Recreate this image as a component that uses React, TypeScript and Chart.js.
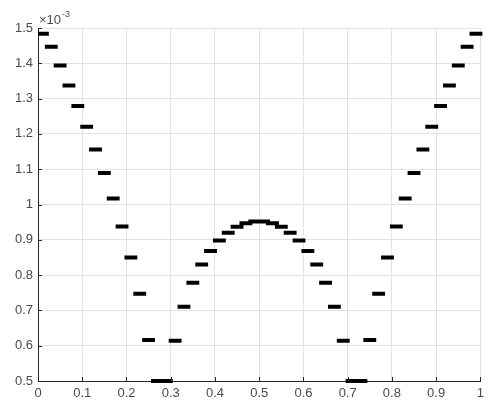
import React, { useEffect, useRef } from "react";
import { Chart, registerables } from "chart.js";

Chart.register(...registerables);

// Bin edges along x (51 edges -> 50 horizontal steps)
const binEdges = [
  0, 0.02, 0.04, 0.06, 0.08, 0.1, 0.12, 0.14, 0.16, 0.18,
  0.2, 0.22, 0.24, 0.26, 0.28, 0.3, 0.32, 0.34, 0.36, 0.38,
  0.4, 0.42, 0.44, 0.46, 0.48, 0.5, 0.52, 0.54, 0.56, 0.58,
  0.6, 0.62, 0.64, 0.66, 0.68, 0.7, 0.72, 0.74, 0.76, 0.78,
  0.8, 0.82, 0.84, 0.86, 0.88, 0.9, 0.92, 0.94, 0.96, 0.98, 1,
];

// Step values, in units of 1e-3
const stepValues = [
  1.484, 1.447, 1.394, 1.337, 1.279, 1.22, 1.156, 1.089, 1.017, 0.938,
  0.85, 0.747, 0.616, 0.5, 0.5, 0.614, 0.71, 0.778, 0.83, 0.868,
  0.898, 0.92, 0.937, 0.947, 0.952, 0.952, 0.947, 0.937, 0.92, 0.898,
  0.868, 0.83, 0.778, 0.71, 0.614, 0.5, 0.5, 0.616, 0.747, 0.85,
  0.938, 1.017, 1.089, 1.156, 1.22, 1.279, 1.337, 1.394, 1.447, 1.484,
];

const xTicks = [0, 0.1, 0.2, 0.3, 0.4, 0.5, 0.6, 0.7, 0.8, 0.9, 1];
const yTicks = [0.5, 0.6, 0.7, 0.8, 0.9, 1, 1.1, 1.2, 1.3, 1.4, 1.5];
const exponentBase = "\u00d710";
const exponentPower = "-3";

const FONT = "'Liberation Sans', Arial, Helvetica, sans-serif";
const TEXT_COLOR = "#4a4a4a";
const AXIS_COLOR = "#262626";
const GRID_COLOR = "#e3e3e3";

export default function App() {
  const canvasRef = useRef<HTMLCanvasElement | null>(null);

  useEffect(() => {
    const canvas = canvasRef.current;
    if (!canvas) return;

    const points: { x: number; y: number | null }[] = [];
    for (let i = 0; i < stepValues.length; i++) {
      points.push({ x: binEdges[i], y: stepValues[i] });
      points.push({ x: binEdges[i + 1], y: stepValues[i] });
      points.push({ x: binEdges[i + 1], y: null });
    }

    const innerTicks = {
      id: "innerTicks",
      afterDatasetsDraw(chart: any) {
        const ctx = chart.ctx;
        const xs = chart.scales.x;
        const ys = chart.scales.y;
        const area = chart.chartArea;
        ctx.save();
        ctx.strokeStyle = AXIS_COLOR;
        ctx.lineWidth = 1;
        ctx.beginPath();
        xTicks.forEach((t) => {
          const px = Math.round(xs.getPixelForValue(t)) + 0.5;
          ctx.moveTo(px, area.bottom);
          ctx.lineTo(px, area.bottom - 4);
        });
        yTicks.forEach((t) => {
          const py = Math.round(ys.getPixelForValue(t)) + 0.5;
          ctx.moveTo(area.left, py);
          ctx.lineTo(area.left + 4, py);
        });
        ctx.stroke();
        // exponent label
        ctx.fillStyle = TEXT_COLOR;
        ctx.textBaseline = "alphabetic";
        ctx.textAlign = "left";
        ctx.font = `13px ${FONT}`;
        const baseX = area.left + 1;
        const baseY = area.top - 4;
        ctx.fillText(exponentBase, baseX, baseY);
        const w = ctx.measureText(exponentBase).width;
        ctx.font = `9px ${FONT}`;
        ctx.fillText(exponentPower, baseX + w + 1, baseY - 7);
        ctx.restore();
      },
    };

    const chart = new Chart(canvas, {
      type: "line",
      data: {
        datasets: [
          {
            data: points as any,
            borderColor: "#000000",
            backgroundColor: "#000000",
            borderWidth: 4,
            borderCapStyle: "square",
            pointRadius: 0,
            pointHoverRadius: 0,
            spanGaps: false,
            tension: 0,
            clip: { left: 0, right: 3, top: 3, bottom: 3 } as any,
          },
        ],
      },
      options: {
        animation: false,
        responsive: false,
        maintainAspectRatio: false,
        events: [],
        layout: { padding: { left: 0, right: 3, top: 28, bottom: 0 } },
        plugins: {
          legend: { display: false },
          tooltip: { enabled: false },
        },
        scales: {
          x: {
            type: "linear",
            min: 0,
            max: 1,
            afterBuildTicks(scale: any) {
              scale.ticks = xTicks.map((v) => ({ value: v }));
            },
            afterFit(scale: any) {
              scale.height = 22;
            },
            grid: {
              color: GRID_COLOR,
              lineWidth: 1,
              drawTicks: false,
            },
            border: { display: true, color: AXIS_COLOR, width: 1 },
            ticks: {
              color: TEXT_COLOR,
              font: { family: FONT, size: 13 },
              padding: 5,
              maxRotation: 0,
              autoSkip: false,
              callback: (v: any) => String(Number(v)),
            },
          },
          y: {
            type: "linear",
            min: 0.5,
            max: 1.5,
            afterBuildTicks(scale: any) {
              scale.ticks = yTicks.map((v) => ({ value: v }));
            },
            afterFit(scale: any) {
              scale.width = 38;
            },
            grid: {
              color: GRID_COLOR,
              lineWidth: 1,
              drawTicks: false,
            },
            border: { display: true, color: AXIS_COLOR, width: 1 },
            ticks: {
              color: TEXT_COLOR,
              font: { family: FONT, size: 13 },
              padding: 5,
              autoSkip: false,
              callback: (v: any) => String(Number(v)),
            },
          },
        },
      },
      plugins: [innerTicks],
    });

    return () => chart.destroy();
  }, []);

  return (
    <div style={{ position: "fixed", left: 0, top: 0, width: 489, height: 403, background: "#fff" }}>
      <canvas ref={canvasRef} width={489} height={403} style={{ width: 489, height: 403, display: "block" }} />
    </div>
  );
}
